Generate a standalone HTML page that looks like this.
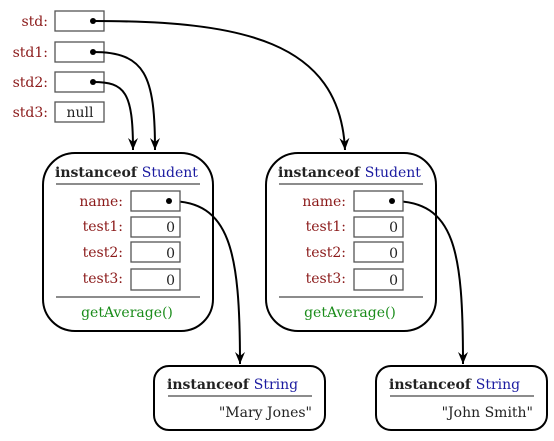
<!DOCTYPE html>
<html><head><meta charset="utf-8"><style>
html,body{margin:0;padding:0;background:#fff;}
svg{display:block;font-family:"DejaVu Serif","Liberation Serif",serif;font-size:14px;}
.r{fill:#8b1a1a;}
.b{fill:#1a1aa0;}
.g{fill:#1a8c1a;}
.k{fill:#222;}
</style></head><body>
<svg width="554" height="441" viewBox="0 0 554 441" xmlns="http://www.w3.org/2000/svg">
<defs>
<marker id="a" markerWidth="12" markerHeight="10" refX="12" refY="5" orient="auto" markerUnits="userSpaceOnUse" viewBox="0 0 12 10">
<path d="M0,0 L12,5 L0,10 L4,5 Z" fill="#000"/>
</marker>
</defs>
<g stroke="#555" stroke-width="1.3" fill="#fff">
<rect x="55" y="11" width="49" height="20"/>
<rect x="55" y="42" width="49" height="20"/>
<rect x="55" y="72" width="49" height="20"/>
<rect x="55" y="102" width="49" height="20"/>
</g>
<g text-anchor="end" class="r">
<text x="48" y="26">std:</text>
<text x="48" y="57">std1:</text>
<text x="48" y="87">std2:</text>
<text x="48" y="117">std3:</text>
</g>
<text x="80" y="117" text-anchor="middle" class="k">null</text>

<g fill="none" stroke="#000" stroke-width="2">
<path d="M93,21 C240,21 340,40 345,150" marker-end="url(#a)"/>
<path d="M93,52 C145,52 155,75 155,150" marker-end="url(#a)"/>
<path d="M93,82 C125,82 133,92 133,150" marker-end="url(#a)"/>
<path d="M169,201 C230,201 240,250 240,364" marker-end="url(#a)"/>
<path d="M392,201 C455,201 463,250 463,364" marker-end="url(#a)"/>
</g>
<g fill="#000">
<circle cx="93" cy="21" r="3"/>
<circle cx="93" cy="52" r="3"/>
<circle cx="93" cy="82" r="3"/>
</g>

<g id="st">
<rect x="43" y="153" width="170" height="178" rx="32" fill="none" stroke="#000" stroke-width="2"/>
<text x="55" y="177" font-weight="bold" class="k">instanceof <tspan class="b" font-weight="normal">Student</tspan></text>
<line x1="56" y1="184" x2="200" y2="184" stroke="#666" stroke-width="1.5"/>
<g stroke="#555" stroke-width="1.3" fill="#fff">
<rect x="131" y="191" width="49" height="20"/>
<rect x="131" y="217" width="49" height="20"/>
<rect x="131" y="242" width="49" height="20"/>
<rect x="131" y="269" width="49" height="21"/>
</g>
<g text-anchor="end" class="r">
<text x="123" y="206">name:</text>
<text x="123" y="231">test1:</text>
<text x="123" y="257">test2:</text>
<text x="123" y="283">test3:</text>
</g>
<g text-anchor="end" class="k">
<text x="175" y="232">0</text>
<text x="175" y="258">0</text>
<text x="175" y="285">0</text>
</g>
<circle cx="169" cy="201" r="3" fill="#000"/>
<line x1="56" y1="297" x2="200" y2="297" stroke="#666" stroke-width="1.5"/>
<text x="127" y="317" text-anchor="middle" class="g">getAverage()</text>
</g>
<use href="#st" x="223" y="0"/>

<g id="sg">
<rect x="154" y="366" width="171" height="64" rx="15" fill="none" stroke="#000" stroke-width="2"/>
<text x="167" y="389" font-weight="bold" class="k">instanceof <tspan class="b" font-weight="normal">String</tspan></text>
<line x1="168" y1="396" x2="312" y2="396" stroke="#666" stroke-width="1.5"/>
</g>
<text x="312" y="417" text-anchor="end" class="k">"Mary Jones"</text>
<use href="#sg" x="222" y="0"/>
<text x="533" y="417" text-anchor="end" class="k">"John Smith"</text>
</svg>
</body></html>
